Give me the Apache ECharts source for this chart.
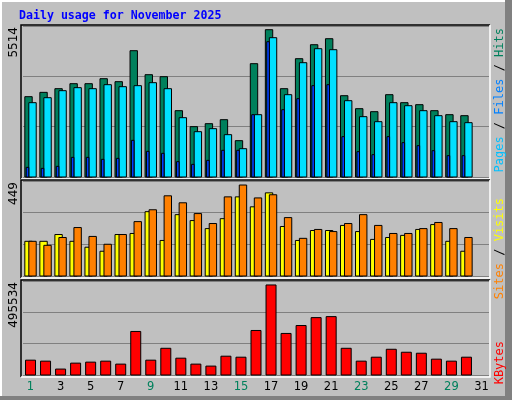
<!DOCTYPE html>
<html><head><meta charset="utf-8">
<script src="https://cdn.jsdelivr.net/npm/echarts@6/dist/echarts.min.js"></script>
<style>html,body{margin:0;padding:0;background:#C0C0C0}#c{width:512px;height:400px}</style>
</head><body><div id="c"></div>
<script>
const days = ['1','2','3','4','5','6','7','8','9','10','11','12','13','14','15','16','17','18','19','20','21','22','23','24','25','26','27','28','29','30','31'];
const weekendDays = ['1','2','8','9','15','16','22','23','29','30'];
const hits  = [2933,3091,3225,3408,3408,3590,3481,4612,3736,3663,2422,1838,1947,2093,1327,4138,5379,3225,4320,4831,5050,2969,2495,2385,3006,2714,2641,2422,2276,2239];
const files = [2714,2896,3152,3262,3225,3371,3298,3335,3444,3225,2166,1655,1765,1546,1034,2276,5087,3006,4174,4685,4649,2787,2203,2020,2714,2604,2422,2239,2020,1984];
const pages = [353,316,389,718,718,645,681,1339,937,864,560,462,608,974,974,2276,4941,2458,2860,3335,3371,1473,925,815,1473,1254,1144,961,779,779];
const visits = [164,164,196,164,136,117,196,201,304,168,290,262,224,271,374,327,393,234,168,215,215,239,210,173,182,192,220,243,164,117];
const sites  = [164,145,182,229,187,150,196,257,313,379,346,295,248,374,430,369,384,276,178,220,210,248,290,239,201,201,224,253,224,182];
const kbytes = [78240,73025,31297,62593,67809,73025,57377,229508,78240,140834,88673,57377,46945,99105,93890,234724,474665,219076,260805,302534,307750,140834,73025,93890,135618,119970,114754,83458,73025,93890];
const maxLabels = ['5514','449','495534'];
const title = 'Daily usage for November 2025';

const chart = echarts.init(document.getElementById('c'));
const G = [{top:26,h:151},{top:181,h:95},{top:281,h:94}];
function bars(specs){
  return function(params, api){
    const i = params.dataIndex;
    const c = api.coord([i,0]);
    const children = specs.map(s=>{
      const v = api.value(s.dim);
      const p = api.coord([i,v]);
      return {type:'rect',shape:{x:c[0]+s.dx,y:p[1],width:s.w,height:c[1]-p[1]},
        style:{fill:s.color,stroke:'#000',lineWidth:1}};
    });
    return {type:'group',children};
  };
}
const idx = days.slice(0,hits.length).map((d,i)=>i);
const data1 = idx.map(i=>[i,hits[i],files[i],pages[i]]);
const data2 = idx.map(i=>[i,visits[i],sites[i]]);
const data3 = idx.map(i=>[i,kbytes[i]]);
const grids = G.map(g=>({left:23,width:466,top:g.top,height:g.h,show:false}));
const xAxes = G.map((g,k)=>({type:'category',data:days,gridIndex:k,boundaryGap:true,
  axisLine:{show:false},axisTick:{show:false},
  axisLabel:{show:k===2,margin:6,fontFamily:'DejaVu Sans',fontSize:11.5,
    color:(v)=>weekendDays.includes(v)?'#00805C':'#000'}}));
const yAxes = maxLabels.map((m,k)=>({type:'value',gridIndex:k,min:0,max:+m,interval:+m/3,
  axisLabel:{show:false},axisLine:{show:false},axisTick:{show:false},
  splitLine:{show:true,lineStyle:{color:'#808080',width:1}}}));
const panels=[[25,179],[180,278],[280,377]];
const graphics=[
  {type:'polyline',shape:{points:[[1,399],[1,1],[511,1]]},style:{stroke:'#fff',lineWidth:2,fill:null}},
  {type:'rect',shape:{x:505,y:0,width:7,height:400},style:{fill:'#808080'}},
  {type:'rect',shape:{x:0,y:396,width:512,height:4},style:{fill:'#808080'}},
  {type:'text',x:19,y:16,style:{text:title,fill:'#0000FF',font:'bold 11.6px "DejaVu Sans Mono"',verticalAlign:'middle'}}
];
panels.forEach(p=>{
  graphics.push({type:'polyline',z:10,shape:{points:[[21,p[1]],[21,p[0]],[490,p[0]]]},style:{stroke:'#000',lineWidth:1.5,fill:null}});
  graphics.push({type:'polyline',z:10,shape:{points:[[21,p[1]],[490,p[1]],[490,p[0]]]},style:{stroke:'#fff',lineWidth:1.5,fill:null}});
});
const tops=[27,182,282];
maxLabels.forEach((m,k)=>graphics.push({type:'text',x:14,y:tops[k],rotation:Math.PI/2,
  style:{text:m,fill:'#000',font:'12px "DejaVu Sans"',align:'right',verticalAlign:'middle'}}));
function rlabel(y,parts){
  graphics.push({type:'text',x:500,y:y,rotation:Math.PI/2,style:{
    text:parts.map(p=>'{'+p[1]+'|'+p[0]+'}').join(''),align:'right',verticalAlign:'middle',
    rich:Object.fromEntries(parts.map(p=>[p[1],{fill:p[2],font:'12px "DejaVu Sans Mono"'}]))}});
}
rlabel(28,[['Pages','a','#00C0FF'],[' / ','s','#000'],['Files','b','#0080FF'],[' / ','t','#000'],['Hits','c','#00805C']]);
rlabel(198,[['Sites','a','#FF8000'],[' / ','s','#000'],['Visits','b','#FFFF00']]);
rlabel(341,[['KBytes','a','#FF0000']]);

chart.setOption({
  animation:false,backgroundColor:'#C0C0C0',
  grid:grids,xAxis:xAxes,yAxis:yAxes,graphic:graphics,
  series:[
    {type:'custom',xAxisIndex:0,yAxisIndex:0,data:data1,encode:{x:0,y:[1,2,3]},
     renderItem:bars([{dim:1,dx:-5.7,w:7.4,color:'#00805C'},{dim:2,dx:-1.7,w:7.4,color:'#00E0FF'},{dim:3,dx:-4.3,w:2.6,color:'#0040FF'}])},
    {type:'custom',xAxisIndex:1,yAxisIndex:1,data:data2,encode:{x:0,y:[1,2]},
     renderItem:bars([{dim:1,dx:-5.7,w:7.4,color:'#FFFF00'},{dim:2,dx:-1.7,w:7.4,color:'#FF8000'}])},
    {type:'custom',xAxisIndex:2,yAxisIndex:2,data:data3,encode:{x:0,y:1},
     renderItem:bars([{dim:1,dx:-5,w:10,color:'#FF0000'}])}
  ]
});
</script></body></html>
